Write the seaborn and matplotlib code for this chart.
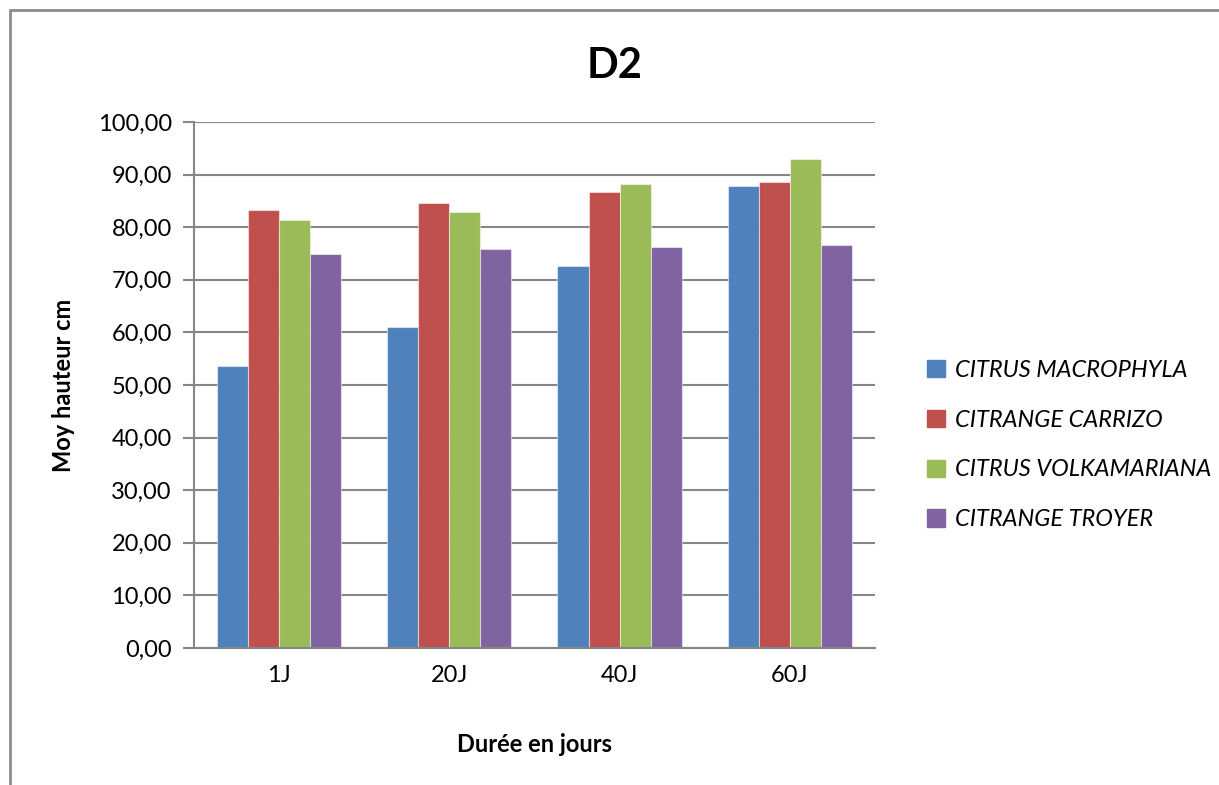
import pandas as pd
import matplotlib.pyplot as plt
import seaborn as sns
from matplotlib.ticker import FuncFormatter
from matplotlib.lines import Line2D

# Data
days = ['1J', '20J', '40J', '60J']
macrophyla = [53.7, 61.0, 72.6, 87.9]
carrizo = [83.3, 84.6, 86.6, 88.6]
volkamariana = [81.3, 82.9, 88.3, 92.9]
troyer = [74.9, 75.9, 76.3, 76.6]
series_names = ['CITRUS MACROPHYLA', 'CITRANGE CARRIZO',
                'CITRUS VOLKAMARIANA', 'CITRANGE TROYER']
colors = ['#4F81BD', '#C0504D', '#9BBB59', '#8064A2']

# Long format table for seaborn
df = pd.DataFrame({
    'jour': days * 4,
    'valeur': macrophyla + carrizo + volkamariana + troyer,
    'serie': [s for s in series_names for _ in days],
})

sns.set_style('white')
plt.rcParams['font.family'] = ['Lato', 'DejaVu Sans']
plt.rcParams['text.color'] = 'black'
plt.rcParams['xtick.labelcolor'] = 'black'
plt.rcParams['ytick.labelcolor'] = 'black'
plt.rcParams['axes.labelcolor'] = 'black'

fig = plt.figure(figsize=(12.19, 7.85), dpi=100)
ax = fig.add_axes([0.1591, 0.1745, 0.5587, 0.6701])

sns.barplot(data=df, x='jour', y='valeur', hue='serie', hue_order=series_names,
            palette=colors, width=0.73, gap=0, saturation=1, ax=ax,
            edgecolor=(1, 1, 1, 0.5), linewidth=0.8, legend=False)

ax.set_xlim(-0.5, 3.5)
ax.set_ylim(0, 100)
ax.set_yticks(range(0, 101, 10))
ax.yaxis.set_major_formatter(FuncFormatter(lambda v, p: f'{v:.2f}'.replace('.', ',')))
ax.yaxis.grid(True, color='#868686', linewidth=1.5)
ax.set_axisbelow(True)
for s in ['top', 'right']:
    ax.spines[s].set_visible(False)
ax.spines['left'].set_color('#868686')
ax.spines['bottom'].set_color('#868686')
ax.spines['left'].set_linewidth(1.5)
ax.spines['bottom'].set_linewidth(1.5)
ax.tick_params(axis='y', length=8, width=1.5, color='#868686', labelsize=17, pad=8, left=True)
ax.tick_params(axis='x', length=0, labelsize=17, pad=12)

ax.set_xlabel('Durée en jours', fontsize=17, fontweight='bold', labelpad=34)
ax.set_ylabel('Moy hauteur cm', fontsize=17, fontweight='bold', labelpad=16)
fig.text(0.5045, 0.916, 'D2', ha='center', va='center', fontsize=30, fontweight='bold')

# Legend
handles = [plt.Rectangle((0, 0), 1, 1, color=c) for c in colors]
leg = fig.legend(handles, series_names, loc='center left', bbox_to_anchor=(0.743, 0.433),
                 frameon=False, handlelength=0.75, handleheight=0.75, handletextpad=0.45,
                 labelspacing=1.22, prop={'size': 17, 'style': 'italic'})

# Outer chart border
fig.add_artist(Line2D([10 / 1219, 10 / 1219], [0, 1 - 10 / 785], color='#8c8c8c', linewidth=2))
fig.add_artist(Line2D([10 / 1219, 1], [1 - 10 / 785, 1 - 10 / 785], color='#8c8c8c', linewidth=2))

plt.savefig('out.png', dpi=100)
